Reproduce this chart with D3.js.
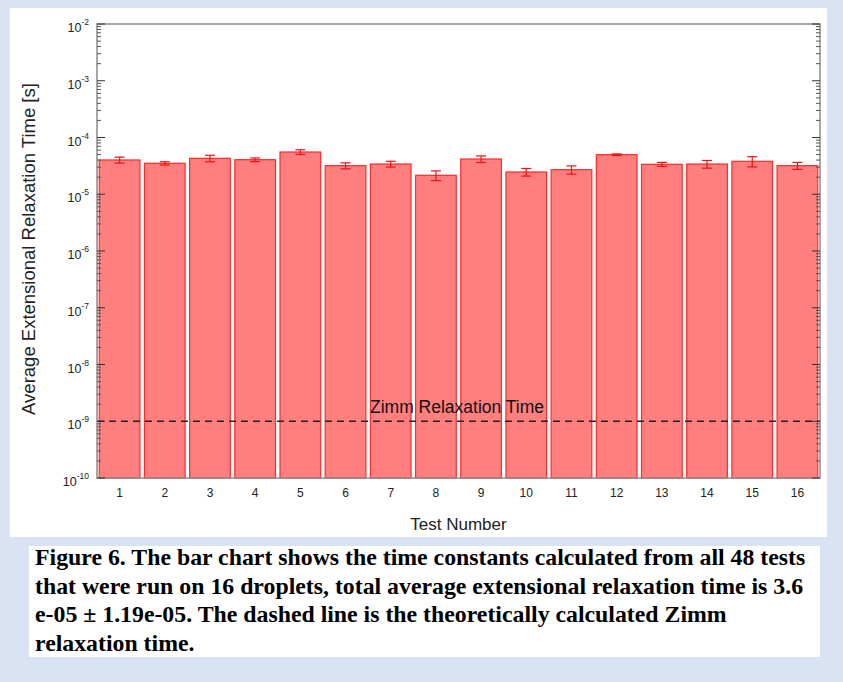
<!DOCTYPE html>
<html>
<head>
<meta charset="utf-8">
<script src="https://cdn.jsdelivr.net/npm/d3@7"></script>
<style>
  html, body { margin: 0; padding: 0; background: #dae3f3; }
  svg { display: block; }
</style>
</head>
<body>
<svg id="chart" width="843" height="682"></svg>
<script>
// Test numbers (one per droplet)
const tests = ["1","2","3","4","5","6","7","8","9","10","11","12","13","14","15","16"];
// Average extensional relaxation time per test [s]
const relaxTime = [4.02e-5, 3.51e-5, 4.30e-5, 4.06e-5, 5.55e-5, 3.19e-5, 3.41e-5, 2.16e-5,
                   4.18e-5, 2.47e-5, 2.71e-5, 4.98e-5, 3.37e-5, 3.41e-5, 3.81e-5, 3.19e-5];
// Half-width of the error bar for each test [s]
const relaxErr = [4.9e-6, 2.3e-6, 5.6e-6, 3.0e-6, 5.3e-6, 3.9e-6, 4.0e-6, 4.2e-6,
                  5.6e-6, 3.8e-6, 4.5e-6, 1.6e-6, 2.7e-6, 5.3e-6, 7.8e-6, 4.5e-6];
// Theoretical Zimm relaxation time [s]
const zimmTime = 1e-9;
// Y axis decade ticks (exponents of ten)
const decadeExps = [-10, -9, -8, -7, -6, -5, -4, -3, -2];
const captionLines = [
  "Figure 6. The bar chart shows the time constants calculated from all 48 tests",
  "that were run on 16 droplets, total average extensional relaxation time is 3.6",
  "e-05 \u00b1 1.19e-05. The dashed line is the theoretically calculated Zimm",
  "relaxation time."
];

const svg = d3.select("#chart");
const sansFont = "'Liberation Sans', Arial, Helvetica, sans-serif";
const serifFont = "'Liberation Serif', 'Times New Roman', serif";

// Panels
svg.append("rect").attr("x", 10).attr("y", 8).attr("width", 817).attr("height", 529).attr("fill", "#ffffff");
svg.append("rect").attr("x", 29).attr("y", 546).attr("width", 791).attr("height", 111).attr("fill", "#ffffff");

const plot = { left: 97, right: 820, top: 24, bottom: 478 };

const x = d3.scaleBand()
  .domain(tests)
  .range([plot.left, plot.right])
  .paddingInner(0.1)
  .paddingOuter(0.05);

const y = d3.scaleLog()
  .domain([1e-10, 1e-2])
  .range([plot.bottom, plot.top]);

const g = svg.append("g");

// Bars
g.selectAll("rect.bar")
  .data(tests)
  .join("rect")
  .attr("class", "bar")
  .attr("x", d => x(d))
  .attr("width", x.bandwidth())
  .attr("y", (d, i) => y(relaxTime[i]))
  .attr("height", (d, i) => plot.bottom - y(relaxTime[i]))
  .attr("fill", "#ff7f7f")
  .attr("stroke", "#ff2a2a")
  .attr("stroke-width", 1.2);

// Error bars
const eb = g.selectAll("g.err")
  .data(tests)
  .join("g")
  .attr("class", "err")
  .attr("stroke", "#ee1111")
  .attr("stroke-width", 1.2);
const cx = d => x(d) + x.bandwidth() / 2;
eb.append("line")
  .attr("x1", cx).attr("x2", cx)
  .attr("y1", (d, i) => y(relaxTime[i] + relaxErr[i]))
  .attr("y2", (d, i) => y(relaxTime[i] - relaxErr[i]));
eb.append("line")
  .attr("x1", d => cx(d) - 5).attr("x2", d => cx(d) + 5)
  .attr("y1", (d, i) => y(relaxTime[i] + relaxErr[i]))
  .attr("y2", (d, i) => y(relaxTime[i] + relaxErr[i]));
eb.append("line")
  .attr("x1", d => cx(d) - 5).attr("x2", d => cx(d) + 5)
  .attr("y1", (d, i) => y(relaxTime[i] - relaxErr[i]))
  .attr("y2", (d, i) => y(relaxTime[i] - relaxErr[i]));

// Zimm relaxation time reference line
g.append("line")
  .attr("x1", plot.left).attr("x2", plot.right)
  .attr("y1", y(zimmTime)).attr("y2", y(zimmTime))
  .attr("stroke", "#222")
  .attr("stroke-width", 1.6)
  .attr("stroke-dasharray", "7,5");
g.append("text")
  .attr("x", 370)
  .attr("y", y(zimmTime) - 8)
  .attr("font-family", sansFont)
  .attr("font-size", 17.5)
  .attr("fill", "#111")
  .text("Zimm Relaxation Time");

// Frame
svg.append("rect")
  .attr("x", plot.left).attr("y", plot.top)
  .attr("width", plot.right - plot.left).attr("height", plot.bottom - plot.top)
  .attr("fill", "none")
  .attr("stroke", "#8c8c8c")
  .attr("stroke-width", 1.5);

// Log ticks: majors at decades, minors at 2..9 within each decade
const minorTicks = [];
decadeExps.slice(0, -1).forEach(e => {
  for (let k = 2; k <= 9; k++) minorTicks.push(k * Math.pow(10, e));
});
const majorTicks = decadeExps.map(e => Math.pow(10, e));

const tickG = svg.append("g").attr("stroke", "#333").attr("stroke-width", 1);
[[plot.left, 1], [plot.right, -1]].forEach(([x0, dir]) => {
  tickG.selectAll(null).data(majorTicks).join("line")
    .attr("x1", x0).attr("x2", x0 + dir * 8)
    .attr("y1", d => y(d)).attr("y2", d => y(d));
  tickG.selectAll(null).data(minorTicks).join("line")
    .attr("x1", x0).attr("x2", x0 + dir * 4)
    .attr("y1", d => y(d)).attr("y2", d => y(d))
    .attr("stroke", "#555");
});

// Y tick labels: 10 with a superscript exponent
const yLab = svg.append("g")
  .attr("font-family", sansFont)
  .attr("fill", "#222");
decadeExps.forEach(e => {
  const t = yLab.append("text")
    .attr("x", 89)
    .attr("y", y(Math.pow(10, e)) + 8)
    .attr("text-anchor", "end")
    .attr("font-size", 12.5);
  t.append("tspan").text("10");
  t.append("tspan").attr("dy", -7).attr("font-size", 8.5).text(String(e));
});

// X tick labels
svg.append("g")
  .selectAll("text")
  .data(tests)
  .join("text")
  .attr("x", d => x(d) + x.bandwidth() / 2)
  .attr("y", 497)
  .attr("text-anchor", "middle")
  .attr("font-family", sansFont)
  .attr("font-size", 12)
  .attr("fill", "#222")
  .text(d => d);

// Axis titles
svg.append("text")
  .attr("x", (plot.left + plot.right) / 2)
  .attr("y", 530)
  .attr("text-anchor", "middle")
  .attr("font-family", sansFont)
  .attr("font-size", 17)
  .attr("fill", "#222")
  .text("Test Number");

svg.append("text")
  .attr("transform", `translate(35,${(plot.top + plot.bottom) / 2 - 2}) rotate(-90)`)
  .attr("text-anchor", "middle")
  .attr("font-family", sansFont)
  .attr("font-size", 18.5)
  .attr("fill", "#222")
  .text("Average Extensional Relaxation Time [s]");

// Caption
svg.append("g")
  .selectAll("text")
  .data(captionLines)
  .join("text")
  .attr("x", 35)
  .attr("y", (d, i) => 565 + i * 28.7)
  .attr("font-family", serifFont)
  .attr("font-weight", "bold")
  .attr("font-size", 23.8)
  .attr("fill", "#000")
  .text(d => d);
</script>
</body>
</html>
